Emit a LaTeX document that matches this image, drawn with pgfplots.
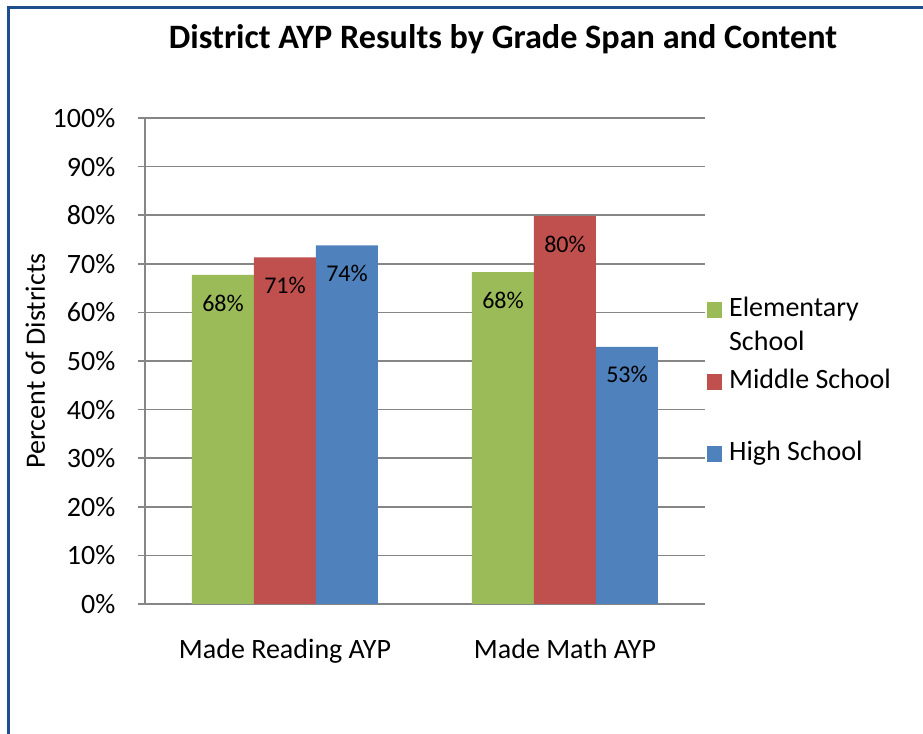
\documentclass[border=0pt]{standalone}
\usepackage{fontspec}
\setmainfont{Carlito}
\usepackage{pgfplots}
\pgfplotsset{compat=1.18}

\definecolor{elem}{HTML}{9BBB59}
\definecolor{mid}{HTML}{C0504D}
\definecolor{high}{HTML}{4F81BD}
\definecolor{gridgray}{HTML}{868686}
\definecolor{frameblue}{HTML}{1F4E8C}

\begin{document}
\fontsize{14}{17}\selectfont
\begin{tikzpicture}
\useasboundingbox (0,0) rectangle (461.5pt,367pt);
\draw[frameblue, line width=1.5pt] (4.25pt,0) -- (4.25pt,363.25pt) -- (461.5pt,363.25pt);
\node[font=\fontsize{17.1}{20}\selectfont\bfseries] at (251.5pt,347.5pt)
  {District AYP Results by Grade Span and Content};
\begin{axis}[
  at={(72.5pt,65pt)}, anchor=south west,
  scale only axis, width=280pt, height=243pt,
  ybar=0pt, bar width=31pt,
  xmin=-0.5, xmax=1.5, ymin=0, ymax=100,
  axis x line*=bottom, axis y line*=left,
  axis line style={gridgray, line width=0.75pt, -},
  ymajorgrids, grid style={gridgray, line width=0.75pt},
  tick align=outside,
  tick style={gridgray, line width=0.75pt},
  major tick length=3.5pt,
  ytick={0,10,...,100},
  yticklabels={0\%,10\%,20\%,30\%,40\%,50\%,60\%,70\%,80\%,90\%,100\%},
  y tick label style={xshift=-6.5pt},
  xtick={0,1},
  xticklabels={Made Reading AYP, Made Math AYP},
  x tick style={draw=none},
  x tick label style={yshift=-9pt},
  extra x ticks={-0.5,0.5,1.5},
  extra x tick labels={},
  extra x tick style={grid=none, tick style={draw=gridgray, line width=0.75pt}},
  ylabel={Percent of Districts},
  every axis y label/.style={at={(axis description cs:-0.196,0.5)}, rotate=90, anchor=center},
  /pgf/number format/assume math mode=true,
  nodes near coords={\pgfmathprintnumber[fixed,precision=0]{\pgfplotspointmeta}\%},
  every node near coord/.append style={anchor=center, yshift=-14pt, text=black,
    font=\fontsize{12}{14}\selectfont},
  legend style={at={(axis description cs:1.002,0.641)}, anchor=north west,
    draw=none, fill=none, inner sep=0pt, row sep=0pt, column sep=3.5pt,
    cells={anchor=base west},
    nodes={inner sep=0pt, text height=12pt, text depth=24pt}},
  legend image code/.code={\fill[#1] (0pt,-0.4pt) rectangle (7.8pt,7.4pt);},
]
\addplot[fill=elem, draw=none] coordinates {(0,67.7) (1,68.3)};
\addlegendentry{\vtop{\hbox{Elementary}\hbox{School}}}
\addplot[fill=mid, draw=none] coordinates {(0,71.3) (1,79.8)};
\addlegendentry{Middle School}
\addplot[fill=high, draw=none] coordinates {(0,73.8) (1,52.9)};
\addlegendentry{High School}
\end{axis}
\end{tikzpicture}
\end{document}
